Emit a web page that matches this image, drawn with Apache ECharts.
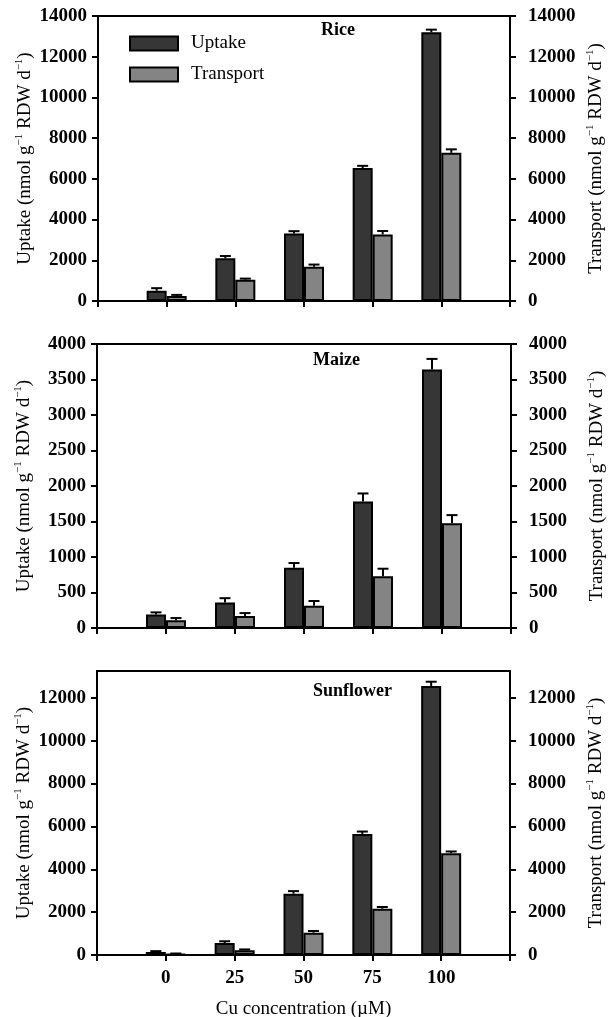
<!DOCTYPE html>
<html>
<head>
<meta charset="utf-8">
<script src="https://cdn.jsdelivr.net/npm/echarts@6/dist/echarts.min.js"></script>
<style>
html,body{margin:0;padding:0;background:#fff;}
#chart{width:613px;height:1017px;}
</style>
</head>
<body>
<div id="chart"></div>
<script>
// ---- data ----
const concentrations = ['0', '25', '50', '75', '100'];
const panelNames = ['Rice', 'Maize', 'Sunflower'];

const riceUptake = [500, 2100, 3320, 6530, 13200];
const riceUptakeErr = [130, 110, 110, 110, 130];
const riceTransport = [240, 1050, 1680, 3270, 7280];
const riceTransportErr = [60, 50, 110, 170, 170];

const maizeUptake = [190, 360, 850, 1780, 3640];
const maizeUptakeErr = [30, 60, 65, 115, 150];
const maizeTransport = [110, 170, 315, 730, 1475];
const maizeTransportErr = [30, 40, 65, 105, 115];

const sunUptake = [140, 560, 2860, 5650, 12550];
const sunUptakeErr = [40, 80, 120, 110, 200];
const sunTransport = [50, 220, 1040, 2160, 4750];
const sunTransportErr = [20, 40, 80, 80, 80];

const riceTicks = [0, 2000, 4000, 6000, 8000, 10000, 12000, 14000];
const maizeTicks = [0, 500, 1000, 1500, 2000, 2500, 3000, 3500, 4000];
const sunTicks = [0, 2000, 4000, 6000, 8000, 10000, 12000];

// ---- layout / style ----
const FONT = "'Liberation Serif', 'Times New Roman', serif";
const DARK = '#363636';
const GRAY = '#848484';
const BAR_W = 20;

const cats = [''].concat(concentrations, ['']);
function pad(arr) { return ['-'].concat(arr, ['-']); }
function errData(vals, errs) { return vals.map((v, i) => [i + 1, v, errs[i]]); }

function errRender(offset) {
  return function (params, api) {
    const idx = api.value(0), v = api.value(1), e = api.value(2);
    const b = api.coord([idx, v]);
    const t = api.coord([idx, v + e]);
    const x = b[0] + offset;
    const hw = 5.5;
    return {
      type: 'group',
      children: [
        { type: 'line', shape: { x1: x, y1: b[1], x2: x, y2: t[1] }, style: { stroke: '#000', lineWidth: 2 } },
        { type: 'line', shape: { x1: x - hw, y1: t[1], x2: x + hw, y2: t[1] }, style: { stroke: '#000', lineWidth: 2 } }
      ]
    };
  };
}

const grids = [
  { left: 98, right: 103, top: 16, height: 285 },
  { left: 97, right: 102, top: 344, height: 284 },
  { left: 97, right: 103, top: 671, height: 284 }
].map(g => Object.assign(g, {
  show: true, borderColor: '#000', borderWidth: 2, backgroundColor: 'transparent',
  containLabel: false, outerBoundsMode: 'none'
}));

const richName = {
  sup: { fontSize: 11, fontFamily: FONT, verticalAlign: 'top', lineHeight: 22, color: '#000' }
};

function xAxis(i, showLabels) {
  return {
    type: 'category', gridIndex: i, data: cats, boundaryGap: false,
    axisLine: { show: true, lineStyle: { color: '#000', width: 2 } },
    axisTick: { show: true, interval: 0, length: 6, lineStyle: { color: '#000', width: 2 } },
    axisLabel: { show: showLabels, interval: 0, color: '#000', fontFamily: FONT, fontWeight: 'bold', fontSize: 19, margin: 14 },
    name: showLabels ? 'Cu concentration (\u00B5M)' : '',
    nameLocation: 'middle', nameGap: 45, nameMoveOverlap: false,
    nameTextStyle: { color: '#000', fontFamily: FONT, fontSize: 19 }
  };
}

function yAxis(i, pos, max, ticks, interval) {
  const isLeft = pos === 'left';
  return {
    type: 'value', gridIndex: i, position: pos, min: 0, max: max, interval: interval,
    axisLine: { show: true, lineStyle: { color: '#000', width: 2 } },
    axisTick: { show: true, length: 6, lineStyle: { color: '#000', width: 2 }, customValues: ticks },
    axisLabel: {
      color: '#000', fontFamily: FONT, fontWeight: 'bold', fontSize: 19, margin: isLeft ? 11 : 18,
      customValues: ticks, formatter: v => String(v)
    },
    splitLine: { show: false },
    name: isLeft ? 'Uptake (nmol g{sup|\u22121} RDW d{sup|\u22121})' : 'Transport (nmol g{sup|\u22121} RDW d{sup|\u22121})',
    nameLocation: 'middle', nameRotate: 90, nameMoveOverlap: false,
    nameGap: isLeft ? 62 : 75,
    nameTextStyle: { color: '#000', fontFamily: FONT, fontSize: 19, lineHeight: 22, rich: richName }
  };
}

const panels = [
  [riceUptake, riceUptakeErr, riceTransport, riceTransportErr],
  [maizeUptake, maizeUptakeErr, maizeTransport, maizeTransportErr],
  [sunUptake, sunUptakeErr, sunTransport, sunTransportErr]
];

const series = [];
panels.forEach((p, i) => {
  series.push({
    name: 'Uptake', type: 'bar', xAxisIndex: i, yAxisIndex: i * 2, data: pad(p[0]),
    barWidth: BAR_W, barGap: '0%',
    itemStyle: { color: DARK, borderColor: '#000', borderWidth: 2 }
  });
  series.push({
    name: 'Transport', type: 'bar', xAxisIndex: i, yAxisIndex: i * 2, data: pad(p[2]),
    barWidth: BAR_W, barGap: '0%',
    itemStyle: { color: GRAY, borderColor: '#000', borderWidth: 2 }
  });
  series.push({
    type: 'custom', xAxisIndex: i, yAxisIndex: i * 2, z: 5,
    renderItem: errRender(-BAR_W / 2), data: errData(p[0], p[1])
  });
  series.push({
    type: 'custom', xAxisIndex: i, yAxisIndex: i * 2, z: 5,
    renderItem: errRender(BAR_W / 2), data: errData(p[2], p[3])
  });
});

const option = {
  animation: false,
  backgroundColor: '#fff',
  grid: grids,
  xAxis: [xAxis(0, false), xAxis(1, false), xAxis(2, true)],
  yAxis: [
    yAxis(0, 'left', 14000, riceTicks, 2000), yAxis(0, 'right', 14000, riceTicks, 2000),
    yAxis(1, 'left', 4000, maizeTicks, 500), yAxis(1, 'right', 4000, maizeTicks, 500),
    yAxis(2, 'left', 13250, sunTicks, 2000), yAxis(2, 'right', 13250, sunTicks, 2000)
  ],
  title: [
    { text: panelNames[0], left: 321, top: 21 },
    { text: panelNames[1], left: 313, top: 351 },
    { text: panelNames[2], left: 313, top: 682 }
  ].map(t => Object.assign(t, { padding: 0, textStyle: { color: '#000', fontFamily: FONT, fontWeight: 'bold', fontSize: 18 } })),
  legend: {
    data: ['Uptake', 'Transport'], orient: 'vertical', left: 124, top: 29,
    itemWidth: 48, itemHeight: 14, itemGap: 12, icon: 'rect',
    textStyle: { color: '#000', fontFamily: FONT, fontSize: 19, padding: [0, 0, 0, 8] }
  },
  series: series
};

const chart = echarts.init(document.getElementById('chart'), null, { renderer: 'canvas' });
chart.setOption(option);
</script>
</body>
</html>
